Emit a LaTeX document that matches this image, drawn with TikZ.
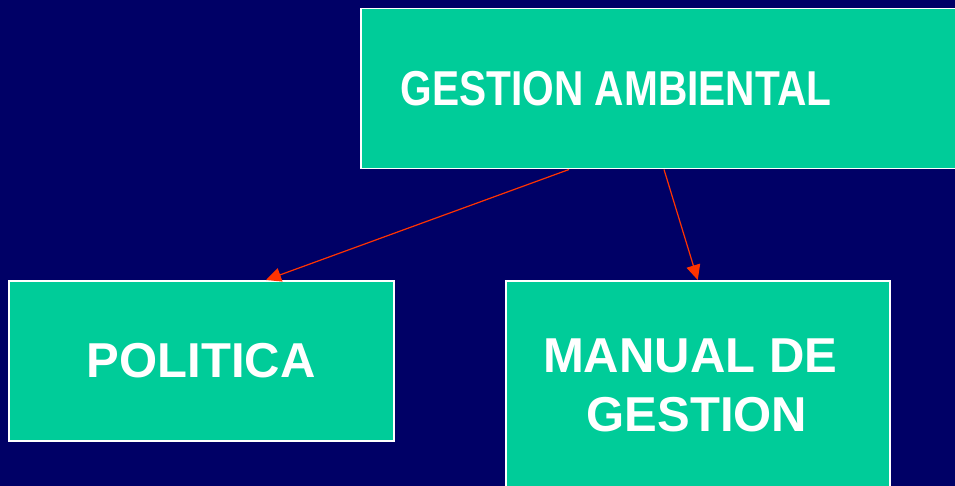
\documentclass[tikz,border=0pt]{standalone}
\usepackage{fontspec}
\setmainfont{Liberation Sans}
\usetikzlibrary{arrows.meta}
\definecolor{fondo}{RGB}{0,0,102}
\definecolor{verde}{RGB}{0,204,153}
\definecolor{rojo}{RGB}{255,51,0}

\begin{document}
\begin{tikzpicture}[x=1pt,y=-1pt,
    caja/.style={draw=white,line width=1.5pt,fill=verde,anchor=north west,inner sep=0pt},
    texto/.style={text=white,font=\fontsize{49}{59}\selectfont\bfseries,align=center},
    flecha/.style={draw=rojo,line width=1.2pt,-{Triangle[length=15pt,width=14pt]}}]
        \fill[fondo] (0,0) rectangle (955,486);
        \useasboundingbox (0,0) rectangle (955,486);
        % cajas
        \node[caja,minimum width=640pt,minimum height=160pt] (gestion) at (360,8) {};
        \node[caja,texto,minimum width=385pt,minimum height=160pt] (politica) at (8,280) {POLITICA};
        \node[caja,minimum width=384pt,minimum height=240pt] (manual) at (505,280) {};
        % textos
        \node[texto] (gestiontxt) at (616,89) {\scalebox{0.83}[1]{GESTION AMBIENTAL}};
        \node[texto] (manualtxt) at (697,385) {MANUAL DE\kern0.28em\\GESTION};
        % flechas
        \draw[flecha] ([xshift=209pt]gestion.south west) -- ([xshift=258pt]politica.north west);
        \draw[flecha] ([xshift=304pt]gestion.south west) -- (manual.north);
    \end{tikzpicture}
\end{document}
